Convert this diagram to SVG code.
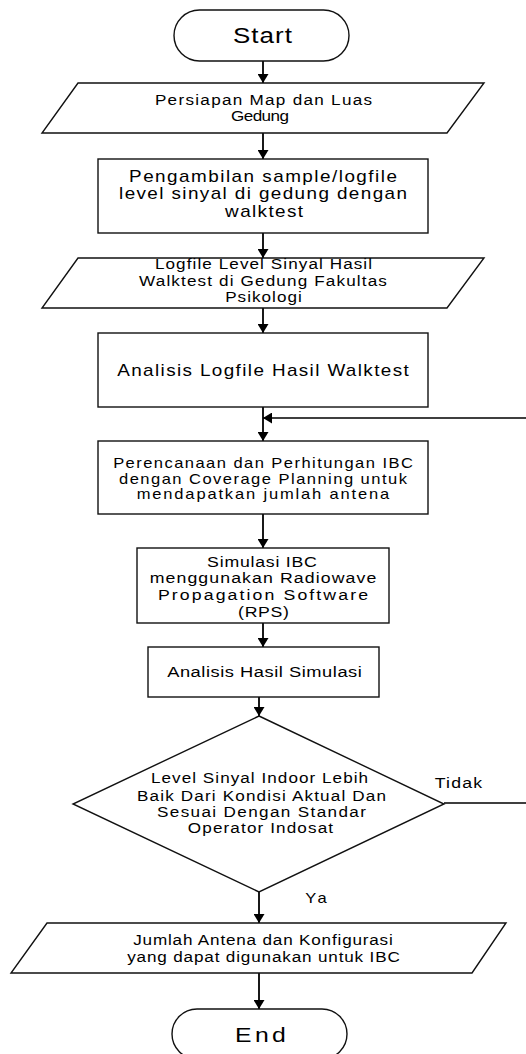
<svg xmlns="http://www.w3.org/2000/svg" width="526" height="1054" viewBox="0 0 526 1054">
<defs>
<style>
.s{fill:#fff;stroke:#111;stroke-width:1.4}
.c{fill:none;stroke:#000;stroke-width:1.8}
text{font-family:"Liberation Sans",Arial,sans-serif;fill:#000;text-anchor:middle;transform-box:fill-box;transform-origin:center;transform:scaleX(1.18)}
</style>
<marker id="ah" viewBox="0 0 9 11" markerWidth="9" markerHeight="11" refX="9" refY="5.5" orient="auto" markerUnits="userSpaceOnUse">
<path d="M0,0 L9,5.5 L0,11 z" fill="#000"/>
</marker>
</defs>
<rect width="526" height="1054" fill="#fff"/>
<g id="connectors">
<line class="c" x1="263" y1="61" x2="263" y2="83" marker-end="url(#ah)"/>
<line class="c" x1="263" y1="133" x2="263" y2="159" marker-end="url(#ah)"/>
<line class="c" x1="263" y1="233" x2="263" y2="258" marker-end="url(#ah)"/>
<line class="c" x1="263" y1="308" x2="263" y2="333" marker-end="url(#ah)"/>
<line class="c" x1="263" y1="407" x2="263" y2="441" marker-end="url(#ah)"/>
<path class="c" d="M444,803 H532 V418 H263" marker-end="url(#ah)" style="stroke-width:1.4"/>
<line class="c" x1="263" y1="514" x2="263" y2="548" marker-end="url(#ah)"/>
<line class="c" x1="263" y1="623" x2="263" y2="647" marker-end="url(#ah)"/>
<line class="c" x1="259" y1="697" x2="259" y2="716" marker-end="url(#ah)"/>
<line class="c" x1="259" y1="892" x2="259" y2="923" marker-end="url(#ah)"/>
<line class="c" x1="259" y1="973" x2="259" y2="1009" marker-end="url(#ah)"/>
<text x="458.5" y="788" font-size="15" textLength="40" lengthAdjust="spacing">Tidak</text>
<text x="316" y="903" font-size="14" textLength="18" lengthAdjust="spacing">Ya</text>
</g>
<g id="start">
<rect class="s" x="174" y="10" width="175" height="51" rx="25.5"/>
<text x="262.5" y="43" font-size="22" textLength="50" lengthAdjust="spacing">Start</text>
</g>
<g id="persiapan">
<polygon class="s" points="78,83 484,83 447,133 42,133"/>
<text x="263.5" y="105" font-size="14.5" textLength="184" lengthAdjust="spacing">Persiapan Map dan Luas</text>
<text x="260" y="121" font-size="14.5" textLength="49" lengthAdjust="spacing">Gedung</text>
</g>
<g id="pengambilan">
<rect class="s" x="98" y="159" width="330" height="74"/>
<text x="263" y="182" font-size="16" textLength="227" lengthAdjust="spacing">Pengambilan sample/logfile</text>
<text x="263" y="199" font-size="16" textLength="244" lengthAdjust="spacing">level sinyal di gedung dengan</text>
<text x="264" y="217" font-size="16" textLength="66" lengthAdjust="spacing">walktest</text>
</g>
<g id="logfile">
<polygon class="s" points="78,258 484,258 447,308 42,308"/>
<text x="263.5" y="269" font-size="14.5" textLength="184" lengthAdjust="spacing">Logfile Level Sinyal Hasil</text>
<text x="263" y="286" font-size="14.5" textLength="210" lengthAdjust="spacing">Walktest di Gedung Fakultas</text>
<text x="263.5" y="302" font-size="14.5" textLength="65" lengthAdjust="spacing">Psikologi</text>
</g>
<g id="analisis-logfile">
<rect class="s" x="98" y="333" width="330" height="74"/>
<text x="263" y="376" font-size="16" textLength="247" lengthAdjust="spacing">Analisis Logfile Hasil Walktest</text>
</g>
<g id="perencanaan">
<rect class="s" x="98" y="441" width="330" height="73"/>
<text x="263" y="468" font-size="14" textLength="254" lengthAdjust="spacing">Perencanaan dan Perhitungan IBC</text>
<text x="263" y="484" font-size="14" textLength="244" lengthAdjust="spacing">dengan Coverage Planning untuk</text>
<text x="263" y="499" font-size="14" textLength="214" lengthAdjust="spacing">mendapatkan jumlah antena</text>
</g>
<g id="simulasi">
<rect class="s" x="137" y="548" width="252" height="75"/>
<text x="262" y="567" font-size="15" textLength="93" lengthAdjust="spacing">Simulasi IBC</text>
<text x="263" y="583" font-size="15" textLength="192" lengthAdjust="spacing">menggunakan Radiowave</text>
<text x="263" y="600" font-size="15" textLength="178" lengthAdjust="spacing">Propagation Software</text>
<text x="263.5" y="617" font-size="15" textLength="43" lengthAdjust="spacing">(RPS)</text>
</g>
<g id="analisis-hasil">
<rect class="s" x="148" y="647" width="231" height="50"/>
<text x="264.5" y="677" font-size="15.5" textLength="165" lengthAdjust="spacing">Analisis Hasil Simulasi</text>
</g>
<g id="decision">
<polygon class="s" points="259,716 444,804 259,892 73,804"/>
<text x="259.5" y="783" font-size="14.5" textLength="184" lengthAdjust="spacing">Level Sinyal Indoor Lebih</text>
<text x="261.5" y="801" font-size="14.5" textLength="211" lengthAdjust="spacing">Baik Dari Kondisi Aktual Dan</text>
<text x="261.5" y="817" font-size="14.5" textLength="177" lengthAdjust="spacing">Sesuai Dengan Standar</text>
<text x="260.5" y="833" font-size="14.5" textLength="123" lengthAdjust="spacing">Operator Indosat</text>
</g>
<g id="jumlah">
<polygon class="s" points="47,923 506,923 472,973 11,973"/>
<text x="263" y="945" font-size="14.5" textLength="220" lengthAdjust="spacing">Jumlah Antena dan Konfigurasi</text>
<text x="263.5" y="962" font-size="14.5" textLength="231" lengthAdjust="spacing">yang dapat digunakan untuk IBC</text>
</g>
<g id="end">
<rect class="s" x="172" y="1009" width="175" height="50" rx="25"/>
<text x="260.5" y="1042" font-size="21" textLength="43" lengthAdjust="spacing">End</text>
</g>
</svg>
